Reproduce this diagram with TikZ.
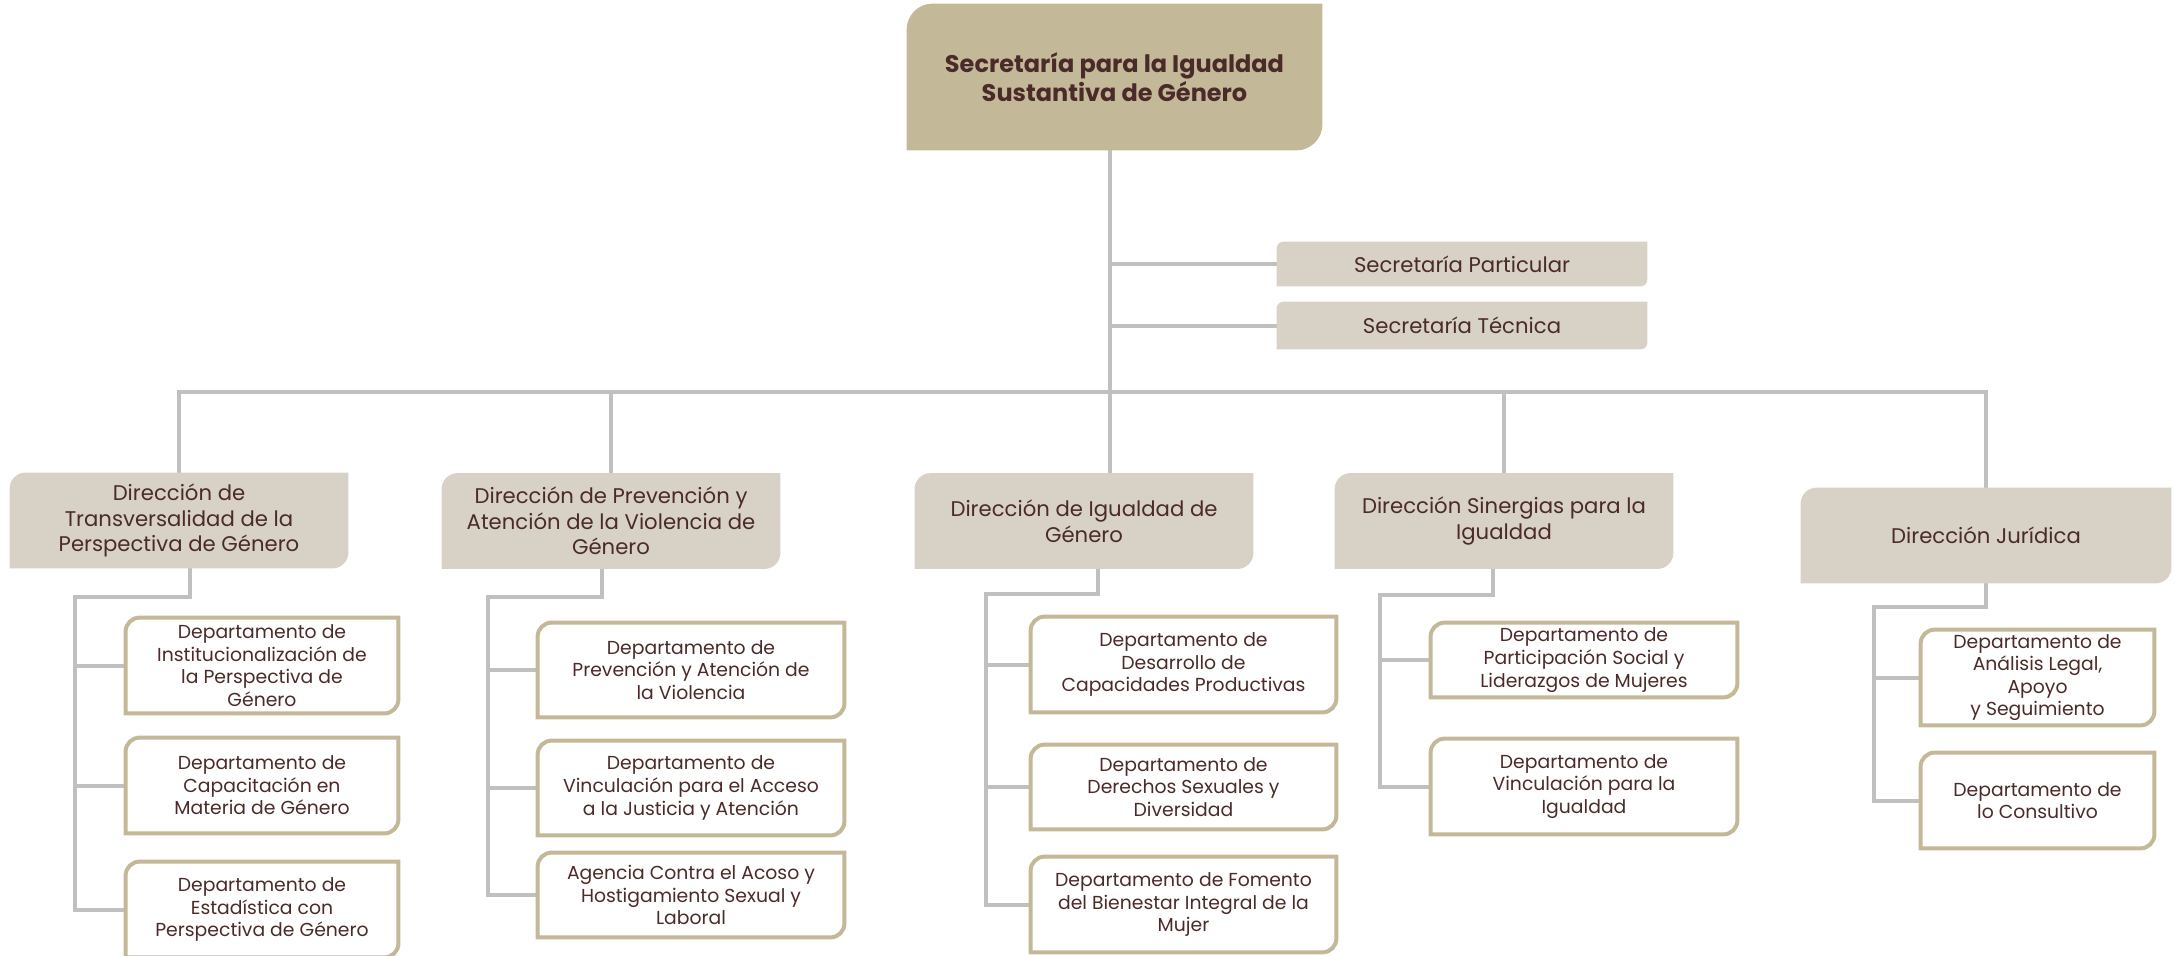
\documentclass[tikz,border=0pt]{standalone}
\usepackage{fontspec}
\setmainfont{Poppins}
\usepackage{tikz}
\usetikzlibrary{backgrounds}
\definecolor{headtan}{HTML}{C3B998}
\definecolor{dirgray}{HTML}{D8D1C5}
\definecolor{linegray}{HTML}{C0C0C0}
\definecolor{inkbrown}{HTML}{4B2B29}
\tikzset{
x=0.5pt, y=0.5pt, % one unit is one pixel of the chart
every node/.style={text=inkbrown, align=center, inner sep=0pt}, % centred text, no padding
dims/.style 2 args={minimum width=#1*0.5pt, minimum height=#2*0.5pt}, % box size in pixels
head/.style={font=\fontsize{12}{14.7}\selectfont\bfseries}, % the secretary
dir/.style={font=\fontsize{10.6}{12.8}\selectfont}, % the directions
dept/.style={font=\fontsize{9.4}{11.3}\selectfont}, % the departments
link/.style={draw=linegray, line width=2pt}, % the grey connectors
}
% box with rounded top left and bottom right corners
\newcommand{\cardpath}[2]{([yshift=-#2]#1.north west) arc[start angle=180, end angle=90, radius=#2] -- (#1.north east) -- ([yshift=#2]#1.south east) arc[start angle=0, end angle=-90, radius=#2] -- (#1.south west) -- cycle}

\begin{document}
\begin{tikzpicture}
            \useasboundingbox (0,0) rectangle (2174,-955);
            \node[head, dims={415}{146}] (head) at (1114.5,-77) {Secretaría para la Igualdad\\Sustantiva de Género};
            \node[dir, dims={370}{44}] (sp) at (1462,-264) {Secretaría Particular};
            \node[dir, dims={370}{47}] (st) at (1462,-325.5) {Secretaría Técnica};
            \node[dir, dims={338}{95}] (d1) at (179,-520.5) {Dirección de\\Transversalidad de la\\Perspectiva de Género};
            \node[dir, dims={338}{95}] (d2) at (611,-521) {Dirección de Prevención y\\Atención de la Violencia de\\Género};
            \node[dir, dims={338}{95}] (d3) at (1084,-521) {Dirección de Igualdad de\\Género};
            \node[dir, dims={338}{95}] (d4) at (1504,-521) {Dirección Sinergias para la\\Igualdad};
            \node[dir, dims={370}{95}] (d5) at (1986,-535.5) {Dirección Jurídica};
            \node[dept, dims={272}{95}] (k11) at (262,-665.5) {Departamento de\\Institucionalización de\\la Perspectiva de\\Género};
            \node[dept, dims={272}{95}] (k12) at (262,-785.5) {Departamento de\\Capacitación en\\Materia de Género};
            \node[dept, dims={272}{95}] (k13) at (262,-909.5) {Departamento de\\Estadística con\\Perspectiva de Género};
            \node[dept, dims={306}{94}] (k21) at (691,-670) {Departamento de\\Prevención y Atención de\\la Violencia};
            \node[dept, dims={306}{94}] (k22) at (691,-788) {Departamento de\\Vinculación para el Acceso\\a la Justicia y Atención};
            \node[dept, dims={306}{84}] (k23) at (691,-895) {Agencia Contra el Acoso y\\Hostigamiento Sexual y\\Laboral};
            \node[dept, dims={305}{95}] (k31) at (1183.5,-664.5) {Departamento de\\Desarrollo de\\Capacidades Productivas};
            \node[dept, dims={305}{84}] (k32) at (1183.5,-787) {Departamento de\\Derechos Sexuales y\\Diversidad};
            \node[dept, dims={305}{95}] (k33) at (1183.5,-904.5) {Departamento de Fomento\\del Bienestar Integral de la\\Mujer};
            \node[dept, dims={306}{74}] (k41) at (1584,-660) {Departamento de\\Participación Social y\\Liderazgos de Mujeres};
            \node[dept, dims={306}{95}] (k42) at (1584,-786.5) {Departamento de\\Vinculación para la\\Igualdad};
            \node[dept, dims={233}{95}] (k51) at (2037.5,-677.5) {Departamento de\\Análisis Legal,\\Apoyo\\y Seguimiento};
            \node[dept, dims={233}{95}] (k52) at (2037.5,-800.5) {Departamento de\\lo Consultivo};
            \coordinate (bus) at (0,-392);
            \coordinate (s1) at (75,-597);
            \coordinate (s2) at (488,-597);
            \coordinate (s3) at (986,-594);
            \coordinate (s4) at (1380,-595);
            \coordinate (s5) at (1874,-607);
            \begin{scope}[on background layer]
                \draw[link] ([xshift=-2.25pt]head.south) -- ([xshift=-2.25pt]head.south |- d3.north);
                \draw[link] ([xshift=-2.25pt]head.south |- sp.west) -- (sp.west);
                \draw[link] ([xshift=-2.25pt]head.south |- st.west) -- (st.west);
                \draw[link] (d1.north) |- (bus -| d5.north) -- (d5.north);
                \draw[link] (d2.north) -- (d2.north |- bus);
                \draw[link] (d4.north) -- (d4.north |- bus);
                \draw[link] ([xshift=5.5pt]d1.south) |- (s1) |- (k13.west);
                \draw[link] (s1 |- k11.west) -- (k11.west);
                \draw[link] (s1 |- k12.west) -- (k12.west);
                \draw[link] ([xshift=-4.5pt]d2.south) |- (s2) |- (k23.west);
                \draw[link] (s2 |- k21.west) -- (k21.west);
                \draw[link] (s2 |- k22.west) -- (k22.west);
                \draw[link] ([xshift=7pt]d3.south) |- (s3) |- (k33.west);
                \draw[link] (s3 |- k31.west) -- (k31.west);
                \draw[link] (s3 |- k32.west) -- (k32.west);
                \draw[link] ([xshift=-5.5pt]d4.south) |- (s4) |- (k42.west);
                \draw[link] (s4 |- k41.west) -- (k41.west);
                \draw[link] (d5.south) |- (s5) |- (k52.west);
                \draw[link] (s5 |- k51.west) -- (k51.west);
                \fill[headtan] \cardpath{head}{13pt};
                \foreach \n in {sp, st}
                    \fill[dirgray] \cardpath{\n}{3.5pt};
                \foreach \n in {d1, d2, d3, d4, d5}
                    \fill[dirgray] \cardpath{\n}{8pt};
                \foreach \n in {k11, k12, k13, k21, k22, k23, k31, k32, k33, k41, k42, k51, k52}
                    \draw[headtan, fill=white, line width=2pt] \cardpath{\n}{7pt};
            \end{scope}
        \end{tikzpicture}
\end{document}
